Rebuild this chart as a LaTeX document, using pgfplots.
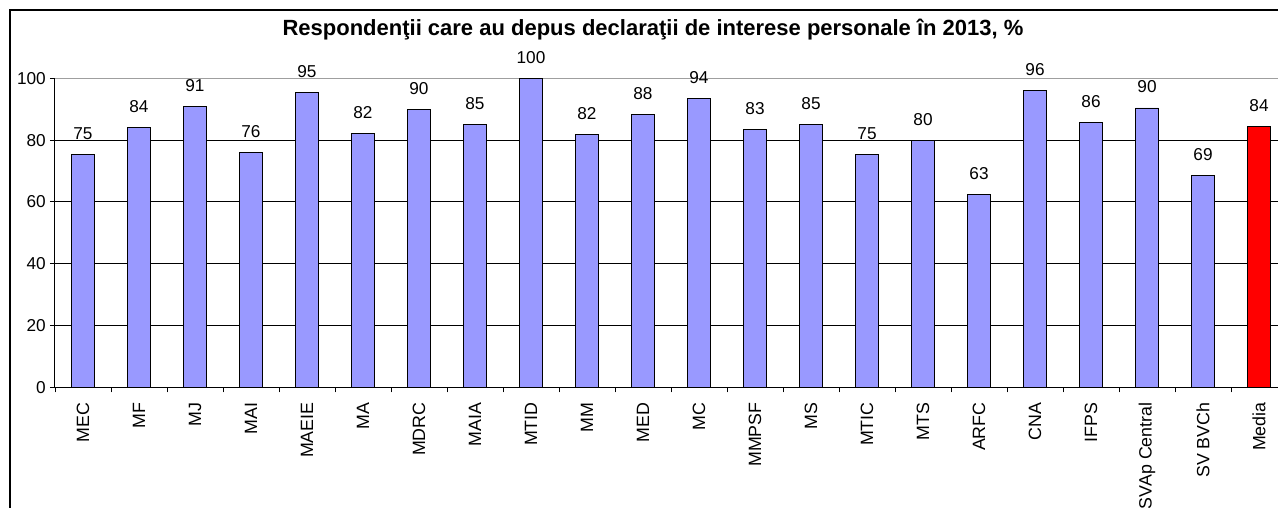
\documentclass[border=0pt]{standalone}
\usepackage{fontspec}
\setmainfont{Liberation Sans}
\usepackage{pgfplots}
\usepackage{pgfplotstable}
\pgfplotsset{compat=1.18}
\definecolor{barblue}{HTML}{9999FF}
\pgfplotstableread{
x y lab
0 75.2 75
1 84.1 84
2 91.0 91
3 76.1 76
4 95.3 95
5 82.0 82
6 90.0 90
7 85.1 85
8 100 100
9 81.9 82
10 88.3 88
11 93.6 94
12 83.5 83
13 85.1 85
14 75.2 75
15 79.8 80
16 62.5 63
17 96.0 96
18 85.6 86
19 90.4 90
20 68.7 69
}\datamain
\pgfplotstableread{
x y lab
21 84.5 84
}\datamedia
\begin{document}
\begin{tikzpicture}[font=\fontsize{17.2}{20}\selectfont]
\begin{axis}[
  at={(0,0)}, anchor=south west,
  scale only axis, width=1232pt, height=309pt,
  xmin=-0.5, xmax=21.5, ymin=0, ymax=100,
  ybar, bar width=23pt,
  xtick={0,...,21},
  xticklabels={MEC,MF,MJ,MAI,MAEIE,MA,MDRC,MAIA,MTID,MM,MED,MC,MMPSF,MS,MTIC,MTS,ARFC,CNA,IFPS,SVAp Central,SV BVCh,Media},
  major x tick style={draw=none},
  minor xtick={-0.5,0.5,...,21.5},
  tick align=outside, major tick length=5pt, minor tick length=5pt,
  tick style={black, line width=0.9pt},
  ytick={0,20,40,60,80},
  extra y ticks={100},
  extra y tick style={grid style={gray!75, line width=1.2pt}},
  ymajorgrids, grid style={black, line width=0.9pt},
  axis x line*=bottom, axis y line*=left,
  axis line style={black, line width=1pt, -},
  /pgf/number format/assume math mode=true,
  xticklabel style={rotate=90, anchor=east, inner sep=0pt, font=\fontsize{17.8}{20}\selectfont},
  yticklabel style={anchor=east, inner sep=0pt, font=\fontsize{17.2}{20}\selectfont},
  xticklabel shift=10pt, yticklabel shift=4pt,
  point meta=explicit symbolic,
  nodes near coords={\pgfplotspointmeta},
  nodes near coords style={anchor=base, yshift=15pt, inner sep=0pt, font=\fontsize{17.2}{20}\selectfont, black},
  clip=false,
]
\addplot[fill=barblue, draw=black, line width=0.9pt, bar shift=0pt] table[x=x, y=y, meta=lab] {\datamain};
\addplot[fill=red, draw=black, line width=0.9pt, bar shift=0pt] table[x=x, y=y, meta=lab] {\datamedia};
\end{axis}
\node[anchor=base, font=\bfseries\fontsize{22}{24}\selectfont] at (598pt,351.3pt) {Respondenţii care au depus declaraţii de interese personale în 2013, \%};
\draw[line width=2pt] (-45.3pt,-300pt) -- (-45.3pt,377pt) -- (1400pt,377pt);
\pgfresetboundingbox
\useasboundingbox (-55pt,-120.7pt) rectangle (1223pt,387.3pt);
\end{tikzpicture}
\end{document}
